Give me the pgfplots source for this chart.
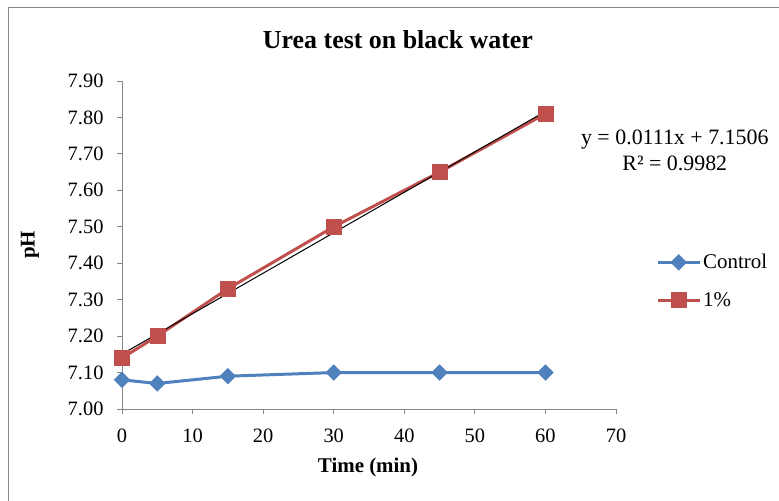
\documentclass[border=0pt]{standalone}
\usepackage{fontspec}
\setmainfont{Liberation Serif}
\usepackage{pgfplots}
\pgfplotsset{compat=1.18}
\definecolor{cblue}{HTML}{4F81BD}
\definecolor{cred}{HTML}{C0504D}
\definecolor{axgray}{HTML}{868686}
\begin{document}
\begin{tikzpicture}[x=1bp,y=1bp]
\useasboundingbox (0,0) rectangle (779,501);
\draw[axgray, line width=1bp] (8,0) -- (8,493) -- (779,493);
\node[font=\bfseries\fontsize{26}{30}\selectfont] at (398,461) {Urea test on black water};
\node[font=\bfseries\fontsize{21}{24}\selectfont, rotate=90] at (30,256) {pH};
\node[font=\bfseries\fontsize{21}{24}\selectfont] at (368,34) {Time (min)};
\begin{axis}[
  at={(122bp,92bp)}, anchor=origin,
  scale only axis, width=494bp, height=328bp,
  xmin=0, xmax=70, ymin=7.0, ymax=7.9,
  axis x line*=bottom, axis y line*=left,
  axis line style={axgray, line width=0.8bp, -},
  xtick={0,10,...,70},
  ytick={7.0,7.1,...,7.95},
  tick style={axgray, line width=0.8bp},
  tick align=outside, major tick length=5bp,
  yticklabel style={xshift=-10bp, /pgf/number format/fixed, /pgf/number format/fixed zerofill, /pgf/number format/precision=2},
  /pgf/number format/assume math mode=true,
  ticklabel style={font=\fontsize{20.5}{24}\selectfont},
  xticklabel style={yshift=-11bp},
  clip=false,
  legend style={at={(1.075,0.39)}, anchor=west, draw=none, fill=none,
    font=\fontsize{21}{24}\selectfont, row sep=18bp},
  legend cell align=left,
  legend image code/.code={
    \draw[#1, line width=3bp] (0bp,0bp) -- (42bp,0bp);
    \draw[#1, line width=3bp, mark repeat=1] plot coordinates {(21bp,0bp)};
  },
]
\addplot[cblue, line width=3bp, mark=square*, mark size=5.5bp, mark options={rotate=45, solid, fill=cblue, line width=0.5bp}]
  coordinates {(0,7.08) (5,7.07) (15,7.09) (30,7.10) (45,7.10) (60,7.10)};
\addlegendentry{Control}
\addplot[cred, line width=3bp, mark=square*, mark size=7.5bp, mark options={solid, fill=cred, line width=0.5bp}]
  coordinates {(0,7.14) (5,7.20) (15,7.33) (30,7.50) (45,7.65) (60,7.81)};
\addlegendentry{1\%}
\addplot[black, line width=1bp, forget plot] coordinates {(0,7.1506) (60,7.8166)};
\node[font=\fontsize{22}{26}\selectfont] at (rel axis cs:1.119,0.82) {y = 0.0111x + 7.1506};
\node[font=\fontsize{22}{26}\selectfont] at (rel axis cs:1.119,0.75) {R² = 0.9982};
\end{axis}
\end{tikzpicture}
\end{document}
